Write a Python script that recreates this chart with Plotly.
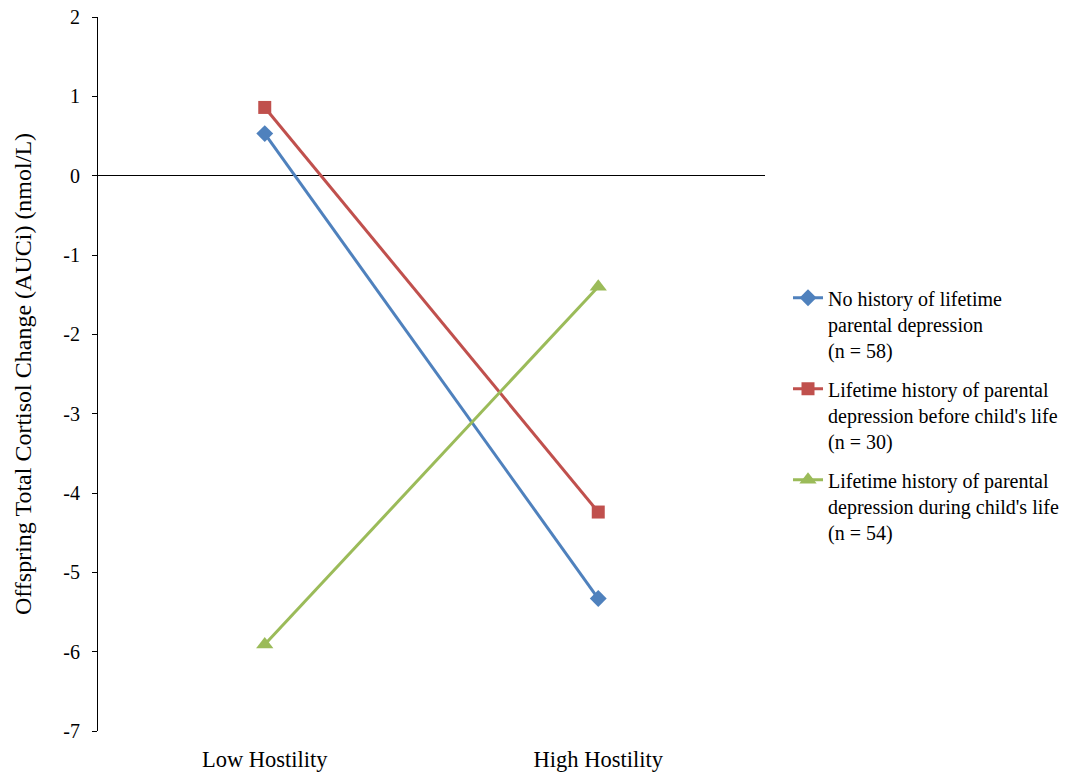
import plotly.graph_objects as go

categories = ["Low Hostility", "High Hostility"]
no_history = [0.53, -5.33]
before_life = [0.86, -4.24]
during_life = [-5.91, -1.40]

y_ticks = [2, 1, 0, -1, -2, -3, -4, -5, -6, -7]
y_ticktext = ["2", "1", "0", "-1", "-2", "-3", "-4", "-5", "-6", "-7"]

names = [
    "No history of lifetime<br>parental depression<br>(n = 58)",
    "Lifetime history of parental<br>depression before child's life<br>(n = 30)",
    "Lifetime history of parental<br>depression during child's life<br>(n = 54)",
]
colors = ["#4F81BD", "#C0504D", "#9BBB59"]
symbols = ["diamond", "square", "triangle-up"]
sizes = [13, 13, 15]
series = [no_history, before_life, during_life]

FONT = "Liberation Serif"

fig = go.Figure()
for i, (vals, nm, c, s, sz) in enumerate(zip(series, names, colors, symbols, sizes)):
    fig.add_trace(go.Scatter(
        x=categories, y=vals, name=nm, mode="lines+markers",
        line=dict(color=c, width=3),
        marker=dict(symbol=s, size=sz, color=c),
        legendgroup=f"g{i}",
    ))

fig.update_layout(
    width=1066, height=778,
    margin=dict(l=98, r=301, t=17, b=47, autoexpand=False),
    paper_bgcolor="white", plot_bgcolor="white",
    font=dict(family=FONT, size=20, color="black"),
    showlegend=True,
    legend=dict(x=1.0345, y=0.634, xanchor="left", yanchor="top",
                font=dict(family=FONT, size=20, color="black"),
                valign="top", tracegroupgap=10, itemwidth=30),
    xaxis=dict(type="category", range=[-0.5, 1.5], showline=False,
               showgrid=False, zeroline=False, ticks="",
               ticklabelstandoff=12, automargin=False,
               tickfont=dict(family=FONT, size=22.5, color="black")),
    yaxis=dict(range=[-7, 2], tickvals=y_ticks, ticktext=y_ticktext,
               showline=True, linecolor="black", automargin=False,
               ticklabeloverflow="allow",
               linewidth=1, ticks="outside", ticklen=5, tickcolor="black",
               showgrid=False, zeroline=True, zerolinecolor="black",
               zerolinewidth=1, ticklabelstandoff=8,
               tickfont=dict(family=FONT, size=20, color="black"),
               title=dict(text="Offspring Total Cortisol Change (AUCi) (nmol/L)",
                          font=dict(family=FONT, size=24, color="black"),
                          standoff=24)),
)

fig.write_html(
    "out.html",
    config={"displayModeBar": False},
    post_script="document.body.style.margin='0';document.body.style.overflow='hidden';",
)
